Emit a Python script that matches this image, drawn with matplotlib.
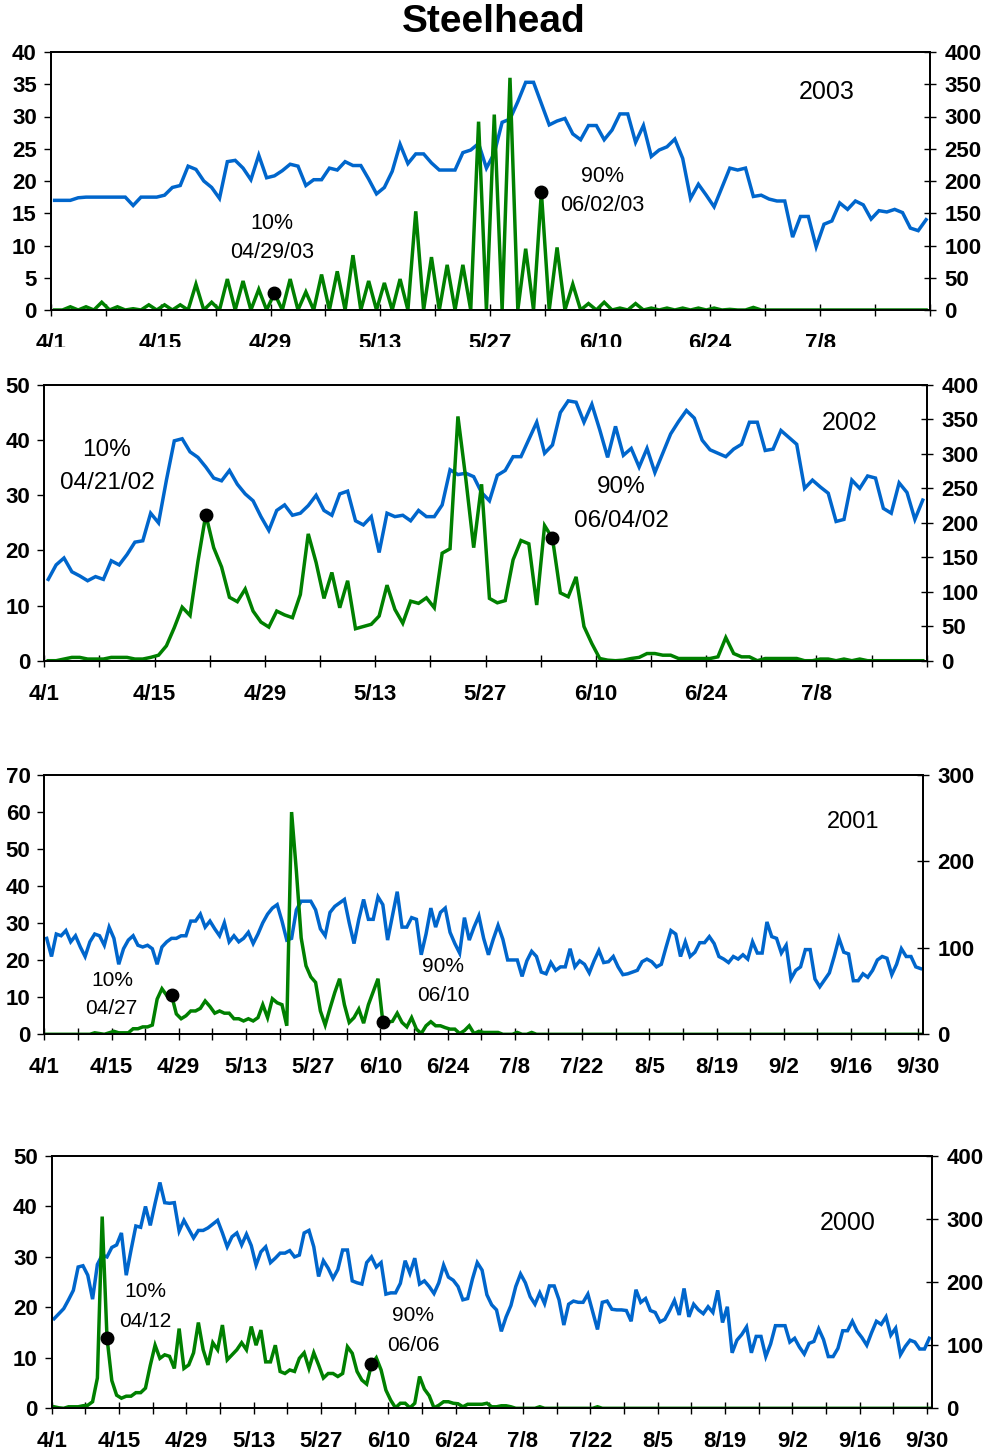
import numpy as np
import matplotlib
matplotlib.use("Agg")
from matplotlib import pyplot as plt
from matplotlib.patches import Rectangle

plt.rcParams['font.family'] = ['Liberation Sans', 'DejaVu Sans']

# x tick labels (every 14 days from 4/1)
date_labels = ['4/1', '4/15', '4/29', '5/13', '5/27', '6/10', '6/24', '7/8',
               '7/22', '8/5', '8/19', '9/2', '9/16', '9/30']

# ---- 2003 (daily, 4/1 - 7/21) ----
green_2003 = [0, 0, 0.5, 0, 0.5, 0, 1.2, 0, 0.5, 0, 0.2, 0, 0.8, 0, 0.8, 0, 0.8, 0,
              4.0, 0, 1.2, 0, 4.8, 0, 4.5, 0, 3.2, 0, 2.6, 0, 4.8, 0, 2.8, 0, 5.5, 0,
              6.0, 0, 8.5, 0, 4.5, 0, 4.2, 0, 4.8, 0, 15.3, 0, 8.2, 0, 7.0, 0, 7.0, 0,
              29.2, 0, 30.3, 0, 36, 0, 9.5, 0, 18.3, 0, 9.7, 0, 4.0, 0, 1.0, 0, 1.2, 0,
              0.3, 0, 1.0, 0, 0.3, 0, 0.3, 0, 0.3, 0, 0.3, 0, 0.3, 0, 0.1, 0, 0, 0.4,
              0, 0, 0, 0, 0, 0, 0, 0, 0, 0, 0, 0, 0, 0, 0, 0, 0, 0, 0, 0, 0, 0]
blue_2003 = [170, 170, 170, 174, 175, 175, 175, 175, 175, 175, 162, 175, 175, 175, 178,
             190, 193, 223, 218, 200, 190, 173, 230, 232, 220, 202, 240, 205, 208, 216,
             226, 223, 193, 202, 202, 220, 217, 230, 224, 224, 203, 180, 190, 215, 257,
             227, 242, 242, 228, 217, 217, 217, 244, 248, 258, 220, 243,
             291, 296, 323, 353, 353, 320, 287, 293, 297, 273, 264, 286, 286, 264, 279,
             304, 304, 260, 286, 238, 248, 253, 265, 235, 173, 195, 178, 160, 190, 220,
             217, 220, 176, 178, 172, 169, 169, 113, 145, 145, 98, 133, 138, 166, 156,
             169, 163, 141, 154, 152, 156, 151, 127, 123, 140]

# ---- 2002 ----
green_2002 = [0, 0, 0.3, 0.6, 0.6, 0.3, 0.3, 0.3, 0.6, 0.6, 0.6, 0.3, 0.3, 0.6,
              1.0, 2.7, 6.0, 9.7, 8.2, 18, 26.5, 20.5, 17, 11.5, 10.7, 13, 9, 7,
              6.1, 9, 8.3, 7.8, 12, 23, 17.8, 11.3, 16, 9.6, 14.5, 5.8, 6.2, 6.6,
              8.1, 13.7, 9.3, 6.8, 10.8, 10.4, 11.4, 9.6, 19.5, 20.3, 44.3, 33, 20.5, 32,
              11.3, 10.5, 10.9, 18.3, 21.8, 21.2, 10.1, 24.5, 22.2, 12.3, 11.6, 15.2, 6.2, 3.1,
              0.4, 0.1, 0, 0.1, 0.4, 0.6, 1.3, 1.3, 1.0, 1.0, 0.4, 0.4, 0.4, 0.4,
              0.4, 0.7, 4.2, 1.3, 0.7, 0.7, 0, 0.4, 0.4, 0.4, 0.4, 0.4, 0, 0,
              0.3, 0.3, 0, 0.3, 0, 0.3, 0, 0, 0, 0, 0, 0, 0, 0]
blue_2002 = [118, 139, 149, 129, 123, 116, 122, 118, 145, 139, 154, 172, 174, 214, 200,
             262, 319, 322, 303, 295, 281, 265, 261, 276, 256, 242, 232, 209, 189, 218,
             226, 211, 214, 225, 240, 218, 211, 242, 246, 203, 197, 209, 157, 214, 209,
             211, 203, 218, 209, 209, 226, 277, 270, 272, 267, 244,
             232, 269, 276, 296, 296, 321, 346, 301, 313, 360, 377, 375, 346, 372, 335,
             295, 340, 298, 308, 281, 308, 273, 301, 329, 347, 363, 352, 320, 306, 301,
             296, 307, 314, 346, 346, 305, 307, 334, 324, 314, 250, 262, 252, 243, 202,
             205, 262, 250, 268, 265, 221, 214, 258, 244, 205, 233]

# ---- 2001 (daily, 4/1 - 9/30) ----
green_2001 = ([0] * 10 +
              [0.4, 0.2, 0, 0.4, 0.8, 0.4, 0.4, 0.4, 1.5, 1.5,
               2, 2, 2.5, 9.5, 12.3, 10.5, 10.6, 5.5, 4.2, 5,
               6.3, 6.3, 7, 9, 7.5, 5.7, 6.3, 5.7, 5.7, 4.2,
               4.2, 3.6, 4.2, 3.6, 4.5, 8, 4.5, 9.6, 8.5, 8,
               2.3, 60, 44, 26, 18.5, 15.5, 14, 6.3, 2.5, 7,
               11.3, 15, 8, 3.2, 4.5, 6.8, 3, 8, 11.5, 15,
               3.4, 3.3, 3.5, 5.7, 3.2, 2, 4.5, 1.4, 0.2, 2.3,
               3.4, 2.3, 2.3, 1.8, 1.4, 1.4, 0.2, 1, 2.3, 0.2,
               0.8, 0.5, 0.5, 0.5, 0.5, 0, 0, 0, 0.5, 0,
               0, 0.5] +
              [0] * 81)
blue_2001 = [111, 90, 116, 114, 120, 107, 114, 101, 90, 107,
             116, 114, 103, 124, 111, 81, 99, 109, 114, 103,
             101, 103, 99, 81, 101, 107, 111, 111, 114, 114,
             131, 131, 139, 124, 131, 122, 114, 129, 107, 114,
             107, 111, 118, 105, 116, 129, 139, 146, 150, 131,
             109, 111, 144, 154, 154, 154, 144, 122, 114, 141,
             148, 152, 156, 129, 105, 133, 156, 133, 133, 159,
             150, 109, 137, 165, 124, 124, 135, 133, 92, 116,
             146, 124, 141, 146, 118, 105, 94, 135, 109, 124,
             137, 111, 92,
             110, 126, 110, 86, 86, 86, 67, 85, 96, 90,
             72, 70, 83, 74, 78, 78, 99, 78, 85, 81,
             71, 85, 97, 83, 84, 90, 78, 69, 70, 72,
             74, 84, 87, 84, 78, 81, 101, 120, 116, 90,
             107, 90, 95, 106, 106, 113, 105, 90, 87, 83,
             90, 87, 92, 87, 107, 94, 94, 130, 113, 111,
             94, 103, 64, 74, 78, 98, 98, 64, 55, 63,
             71, 90, 111, 95, 93, 62, 62, 70, 66, 74,
             86, 90, 88, 69, 81, 99, 90, 90, 78, 76]

# ---- 2000 ----
green_2000 = ([0.3, 0.1, 0, 0.3, 0.3, 0.3, 0.5, 0.6, 1.3, 6,
               38, 14, 5.5, 2.6, 2.0, 2.4, 2.4, 3.1, 3.1, 4.0,
               8.5, 12.5, 9.9, 10.6, 10.3, 7.9, 15.8, 7.9, 8.6, 11,
               17, 11.6, 8.6, 13, 11.6, 16.5, 9.6, 10.6, 11.6, 13,
               11.6, 16.2, 12.5, 15.5, 9.2, 9.2, 12.5, 7.3, 6.9, 7.6,
               7.3, 9.9, 11, 7.9, 11, 8.6, 6.0, 6.9, 6.9, 6.3,
               6.9, 12.2, 10.9, 7.3, 5.6, 4.8, 8.7, 10, 7.6, 3.6,
               1.6, 0.1, 1.0, 1.0, 0.1, 1.0, 6.3, 3.8, 2.5, 0.1,
               0.6, 1.3, 1.3, 1.0, 0.9, 0.3, 0.8, 0.8, 0.8, 0.8,
               1.0, 0.3, 0.3, 0.5, 0.5, 0.3, 0, 0, 0, 0,
               0, 0.3, 0, 0, 0, 0, 0, 0, 0, 0,
               0, 0, 0, 0.3] +
              [0] * 69)
blue_2000 = [142, 150, 158, 172, 187, 224, 226, 211, 173, 228,
             243, 240, 255, 259, 278, 211, 251, 289, 287, 320,
             290, 325, 358, 326, 325, 326, 281, 298, 284, 270,
             282, 282, 286, 292, 298, 278, 256, 272, 278, 259,
             276, 258, 227, 248, 256, 231, 238, 246, 246, 250,
             240, 243, 278, 282, 256, 209, 234, 222, 206, 220,
             251, 251, 202, 199, 197, 231, 240, 224, 231, 181,
             183, 183, 198, 234, 214, 238, 197, 202, 193, 182,
             199, 227, 208, 203, 193, 172, 174, 205, 231, 219,
             180, 164, 156, 122,
             145, 163, 193, 213, 199, 177, 165, 183, 166, 194,
             194, 172, 132, 165, 170, 168, 168, 181, 153, 125,
             168, 170, 157, 156, 156, 155, 138, 188, 168, 174,
             155, 152, 137, 141, 155, 171, 148, 190, 145, 165,
             156, 150, 161, 152, 187, 136, 161, 88, 108, 117,
             129, 88, 114, 114, 82, 102, 131, 131, 131, 105,
             111, 97, 86, 103, 106, 126, 109, 82, 82, 95,
             123, 123, 138, 122, 112, 100, 120, 138, 133, 145,
             116, 127, 85, 98, 108, 105, 94, 94, 111]

# 10% / 90% passage day index (days after 4/1)
marks_2003 = [28, 62]
marks_2002 = [20, 64]
marks_2001 = [26, 70]
marks_2000 = [11, 66]

W, H = 987, 1452
fig = plt.figure(figsize=(W / 100, H / 100), dpi=100)

BLUE = '#0066cc'
GREEN = '#008000'


def px_axes(left, right, top, bottom):
    return fig.add_axes([left / W, 1 - bottom / H, (right - left) / W, (bottom - top) / H])


def draw_panel(ax, green, blue, marks, ylim_l, step_l, ylim_r, step_r, ndays, texts):
    x = np.arange(len(green)) + 0.5
    ax2 = ax.twinx()
    ax2.plot(x, blue, color=BLUE, lw=2.5, solid_joinstyle='miter')
    ax.plot(x, green, color=GREEN, lw=2.5, solid_joinstyle='miter')
    g = np.array(green)
    ax.plot(np.array(marks) + 0.5, g[marks], 'o', color='black', ms=9, zorder=5)

    # green series drawn above the blue one
    ax.set_zorder(ax2.get_zorder() + 1)
    ax.patch.set_visible(False)

    ax.set_xlim(0, ndays)
    ax.set_ylim(0, ylim_l)
    ax2.set_ylim(0, ylim_r)
    ax.set_yticks(np.arange(0, ylim_l + 1, step_l))
    ax2.set_yticks(np.arange(0, ylim_r + 1, step_r))
    ax.set_xticks(np.arange(0, ndays + 1, 7), minor=True)
    major = np.arange(0, ndays, 14)
    ax.set_xticks(major)
    ax.set_xticklabels(date_labels[:len(major)])

    for a in (ax, ax2):
        for s in a.spines.values():
            s.set_linewidth(1.3)
    ax.tick_params(axis='y', direction='out', length=5, width=1, pad=5,
                   labelsize=16)
    ax2.tick_params(axis='y', direction='inout', length=9, width=1, pad=6,
                    labelsize=16)
    ax.tick_params(axis='x', which='both', direction='inout', length=9, width=1,
                   pad=12, labelsize=16)
    for lab in ax.get_yticklabels() + ax2.get_yticklabels() + ax.get_xticklabels():
        lab.set_fontweight('bold')

    for (tx, ty, s, fs) in texts:
        ax.text(tx, ty, s, transform=ax.transAxes, ha='center', va='center',
                fontsize=fs)
    return ax2


ax1 = px_axes(50.7, 930, 52, 310)
draw_panel(ax1, green_2003, blue_2003, marks_2003, 40, 5, 400, 50, 112,
           [(0.252, 0.337, '10%', 15.5), (0.252, 0.221, '04/29/03', 15.5),
            (0.627, 0.519, '90%', 15.5), (0.627, 0.404, '06/02/03', 15.5),
            (0.882, 0.846, '2003', 18)])

ax2 = px_axes(44.3, 926.7, 385, 660.7)
draw_panel(ax2, green_2002, blue_2002, marks_2002, 50, 10, 400, 50, 112,
           [(0.071, 0.764, '10%', 17.5), (0.071, 0.645, '04/21/02', 17.5),
            (0.654, 0.630, '90%', 17.5), (0.654, 0.508, '06/04/02', 17.5),
            (0.913, 0.862, '2002', 18)])

ax3 = px_axes(44.3, 923, 775, 1034.3)
draw_panel(ax3, green_2001, blue_2001, marks_2001, 70, 10, 300, 100, 183,
           [(0.077, 0.209, '10%', 15), (0.076, 0.098, '04/27', 15),
            (0.454, 0.261, '90%', 15), (0.454, 0.148, '06/10', 15),
            (0.920, 0.820, '2001', 17)])

ax4 = px_axes(51.7, 931.7, 1156, 1408.3)
draw_panel(ax4, green_2000, blue_2000, marks_2000, 50, 10, 400, 100, 183,
           [(0.107, 0.462, '10%', 15), (0.106, 0.343, '04/12', 15),
            (0.411, 0.366, '90%', 15), (0.411, 0.247, '06/06', 15),
            (0.905, 0.734, '2000', 18)])

# the top chart's date labels are cut off at the bottom in the original
fig.patches.append(Rectangle((0, 1 - 372 / H), 1, 25 / H, transform=fig.transFigure,
                             facecolor='white', edgecolor='none', zorder=10))

fig.text(494 / W, 1 - 22 / H, 'Steelhead', ha='center', va='center',
         fontsize=28, fontweight='bold')

fig.savefig('out.png', dpi=100)
